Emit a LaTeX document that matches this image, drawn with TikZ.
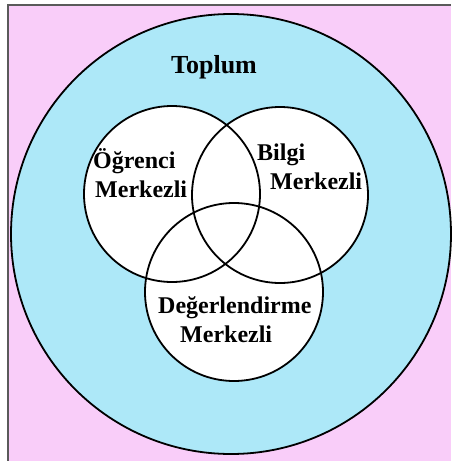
\documentclass[tikz,border=0pt]{standalone}
\usepackage{fontspec}
\setmainfont{Liberation Serif}
\definecolor{bgpink}{RGB}{249,205,249}
\definecolor{skyfill}{RGB}{173,232,248}
\definecolor{framegray}{RGB}{90,90,90}
\tikzset{
  lbl/.style={anchor=base west, inner sep=0pt, font=\fontsize{24}{28}\selectfont\bfseries, text=black},
  ring/.style={draw=black, line width=1.8pt}
}
\begin{document}
\begin{tikzpicture}[x=1pt,y=-1pt]
\useasboundingbox (0,0) rectangle (451,461);
\fill[white] (0,0) rectangle (451,461);
\fill[bgpink] (8,5) rectangle (451,461);
\draw[framegray, line width=1.6pt] (8,461) -- (8,5) -- (451,5);
% outer circle
\fill[skyfill] (231,234) circle (220);
\draw[ring] (231,234) circle (220);
% inner fills
\fill[white] (172,194) circle (88);
\fill[white] (280,195) circle (88);
\fill[white] (234,292) circle (89);
\draw[ring] (172,194) circle (88);
\draw[ring] (280,195) circle (88);
\draw[ring] (234,292) circle (89);
% labels
\node[anchor=base, inner sep=0pt, font=\fontsize{26}{30}\selectfont\bfseries] (toplum) at (214,73) {Toplum};
\node[lbl] (o1) at (93,168) {Öğrenci};
\node[lbl] (o2) at (95,197) {Merkezli};
\node[lbl] (b1) at (257,160) {Bilgi};
\node[lbl] (b2) at (270,189) {Merkezli};
\node[lbl] (d1) at (158,313) {Değerlendirme};
\node[lbl] (d2) at (180,342) {Merkezli};
\end{tikzpicture}
\end{document}
